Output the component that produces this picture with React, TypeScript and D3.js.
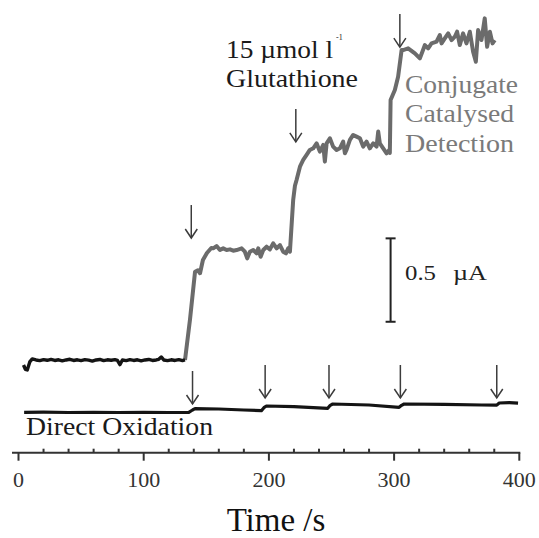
import React from 'react';
import * as d3 from 'd3';

// upper trace, before first addition (black), time s / current µA
const baseTime = [4, 5.5, 7, 9, 11, 14, 17, 20, 23, 26, 29, 32, 35, 38, 41, 44, 47, 50, 53, 56, 59, 62, 65, 68, 71, 74, 77, 79, 81, 83, 86, 89, 92, 95, 98, 101, 104, 107, 110, 112, 114, 116, 119, 122, 125, 128, 131, 133];
const baseCurrent = [0.526, 0.500, 0.496, 0.544, 0.562, 0.556, 0.552, 0.558, 0.554, 0.559, 0.553, 0.557, 0.551, 0.556, 0.560, 0.553, 0.557, 0.552, 0.558, 0.555, 0.549, 0.556, 0.559, 0.552, 0.557, 0.554, 0.558, 0.553, 0.528, 0.556, 0.552, 0.558, 0.553, 0.557, 0.551, 0.556, 0.559, 0.553, 0.556, 0.560, 0.574, 0.556, 0.552, 0.557, 0.553, 0.558, 0.552, 0.556];

// conjugate catalysed detection (grey)
const catTime = [133, 137, 141, 143.3, 145, 147.3, 150.5, 154, 155.5, 158.2, 160.9, 163.5, 166.2, 168.9, 171.5, 174.2, 178.2, 180.8, 182.7, 184.8, 187.5, 190.2, 191.5, 193.4, 195.5, 198.2, 200.8, 203.4, 206.2, 208.8, 211.4, 213.6, 215.4, 216.8, 219.4, 220.8, 222.1, 224.8, 227.4, 230.1, 232.7, 235.4, 238.1, 240.7, 243.4, 244.7, 246.1, 248.7, 251.3, 254.1, 256.7, 259.3, 260.7, 262, 264.7, 267.3, 270, 272.7, 275.3, 278, 280.6, 283.3, 286, 287.3, 288.6, 291.3, 294, 296.1, 296.6, 297.2, 300.6, 303.2, 306, 307.2, 311.2, 316.6, 320.6, 324.6, 327.2, 329.9, 333.9, 336.5, 337.9, 340.5, 343.2, 345.9, 348.5, 350.3, 352.5, 355.1, 357.8, 360.5, 363.1, 365.3, 367.1, 369.8, 372.4, 374.3, 376.5, 378.6, 380.4];
const catCurrent = [0.556, 0.80, 1.085, 1.094, 1.076, 1.155, 1.197, 1.227, 1.225, 1.239, 1.215, 1.225, 1.215, 1.219, 1.211, 1.215, 1.225, 1.205, 1.165, 1.205, 1.215, 1.195, 1.225, 1.175, 1.215, 1.235, 1.219, 1.255, 1.225, 1.245, 1.205, 1.195, 1.225, 1.205, 1.515, 1.600, 1.635, 1.715, 1.755, 1.785, 1.815, 1.825, 1.855, 1.805, 1.845, 1.745, 1.855, 1.885, 1.835, 1.815, 1.825, 1.865, 1.795, 1.815, 1.875, 1.905, 1.895, 1.885, 1.835, 1.865, 1.825, 1.855, 1.835, 1.925, 1.855, 1.825, 1.795, 1.815, 1.797, 2.115, 2.175, 2.254, 2.414, 2.414, 2.424, 2.394, 2.364, 2.444, 2.424, 2.454, 2.464, 2.504, 2.454, 2.484, 2.514, 2.474, 2.494, 2.524, 2.444, 2.514, 2.454, 2.524, 2.404, 2.344, 2.534, 2.474, 2.604, 2.434, 2.524, 2.454, 2.474];

// direct oxidation (lower trace)
const directTime = [4.5, 20, 40, 60, 80, 100, 120, 136, 139, 141, 160, 180, 194, 196, 198, 220, 247, 249, 251, 280, 304, 306, 308, 340, 370, 382, 384, 392, 399];
const directCurrent = [0.242, 0.243, 0.241, 0.242, 0.241, 0.242, 0.241, 0.242, 0.256, 0.264, 0.262, 0.256, 0.252, 0.270, 0.280, 0.276, 0.266, 0.284, 0.292, 0.286, 0.272, 0.284, 0.292, 0.290, 0.286, 0.285, 0.298, 0.300, 0.297];

// additions: time of arrow and current at its tip
const upperArrowTime = [138, 221.5, 304.6];
const upperArrowTip = [1.287, 1.863, 2.432];
const lowerArrowTime = [139, 197, 248, 305, 382];
const lowerArrowTip = [0.292, 0.328, 0.328, 0.328, 0.328];

const xTicks = [0, 100, 200, 300, 400];
const minorTicks = d3.range(20, 400, 20).filter(t => t % 100 !== 0);

const font = '"Liberation Serif", "Times New Roman", serif';

export default function App() {
  const x = d3.scaleLinear().domain([0, 400]).range([18.5, 519.3]);
  const y = d3.scaleLinear().domain([0, 2.7]).range([452.7, 452.7 - 2.7 * 166.8]);
  const axisY = y(0);

  const line = d3.line<[number, number]>()
    .x(d => x(d[0]))
    .y(d => y(d[1]));

  const base = baseTime.map((t, i) => [t, baseCurrent[i]] as [number, number]);
  const cat = catTime.map((t, i) => [t, catCurrent[i]] as [number, number]);
  const direct = directTime.map((t, i) => [t, directCurrent[i]] as [number, number]);

  const arrow = (t: number, tip: number, key: string) => {
    const ax = x(t);
    const ay = y(tip);
    return (
      <g key={key} stroke="#3c3c3c" strokeWidth={1.5} fill="none">
        <line x1={ax} y1={ay - 33} x2={ax} y2={ay} />
        <polyline points={`${ax - 6},${ay - 9} ${ax},${ay} ${ax + 6},${ay - 9}`} />
      </g>
    );
  };

  // 0.5 µA scale bar
  const barX = x(297.2);
  const barTop = y(1.285);
  const barBottom = y(0.785);

  return (
    <svg width={539} height={538} style={{ position: 'absolute', left: 0, top: 0 }}>
      <rect width={539} height={538} fill="#fff" />

      {/* traces */}
      <path d={line(direct) ?? ''} fill="none" stroke="#141414" strokeWidth={3.2} strokeLinejoin="round" />
      <path d={line(cat) ?? ''} fill="none" stroke="#6b6b6b" strokeWidth={4} strokeLinejoin="round" />
      <path d={line(base) ?? ''} fill="none" stroke="#141414" strokeWidth={3.4} strokeLinejoin="round" />

      {upperArrowTime.map((t, i) => arrow(t, upperArrowTip[i], `u${i}`))}
      {lowerArrowTime.map((t, i) => arrow(t, lowerArrowTip[i], `l${i}`))}

      {/* scale bar */}
      <g stroke="#222" strokeWidth={2}>
        <line x1={barX} y1={barTop} x2={barX} y2={barBottom} />
        <line x1={barX - 5} y1={barTop} x2={barX + 5} y2={barTop} />
        <line x1={barX - 5} y1={barBottom} x2={barX + 5} y2={barBottom} />
      </g>
      <text x={405} y={280} fontFamily={font} fontSize={21} fill="#222" textLength={31} lengthAdjust="spacingAndGlyphs">0.5</text>
      <text x={453} y={280} fontFamily={font} fontSize={21} fill="#222" textLength={34} lengthAdjust="spacingAndGlyphs">µA</text>

      {/* x axis */}
      <g stroke="#333" strokeWidth={2}>
        <line x1={12} y1={axisY} x2={x(400) + 1} y2={axisY} />
        {xTicks.map(t => (
          <line key={t} x1={x(t)} y1={axisY} x2={x(t)} y2={axisY + 8} />
        ))}
        {minorTicks.map(t => (
          <line key={t} x1={x(t)} y1={axisY} x2={x(t)} y2={axisY - 4} />
        ))}
      </g>
      {xTicks.map(t => (
        <text key={t} x={x(t)} y={487} textAnchor="middle" fontFamily={font} fontSize={22} fill="#333">{t}</text>
      ))}
      <text x={276} y={531} textAnchor="middle" fontFamily={font} fontSize={33} fill="#111">Time /s</text>

      {/* annotations */}
      <text x={226} y={58} fontFamily={font} fontSize={25} fill="#1a1a1a" textLength={107} lengthAdjust="spacingAndGlyphs">15 µmol l</text>
      <text x={336} y={40} fontFamily={font} fontSize={8} fill="#1a1a1a">-1</text>
      <text x={226} y={87} fontFamily={font} fontSize={25} fill="#1a1a1a" textLength={132} lengthAdjust="spacingAndGlyphs">Glutathione</text>
      <g fontFamily={font} fontSize={26} fill="#7a7a7a">
        <text x={405} y={93} textLength={113} lengthAdjust="spacingAndGlyphs">Conjugate</text>
        <text x={405} y={122} textLength={109} lengthAdjust="spacingAndGlyphs">Catalysed</text>
        <text x={405} y={152} textLength={109} lengthAdjust="spacingAndGlyphs">Detection</text>
      </g>
      <text x={26} y={435} fontFamily={font} fontSize={25} fill="#1a1a1a" textLength={187} lengthAdjust="spacingAndGlyphs">Direct Oxidation</text>
    </svg>
  );
}
